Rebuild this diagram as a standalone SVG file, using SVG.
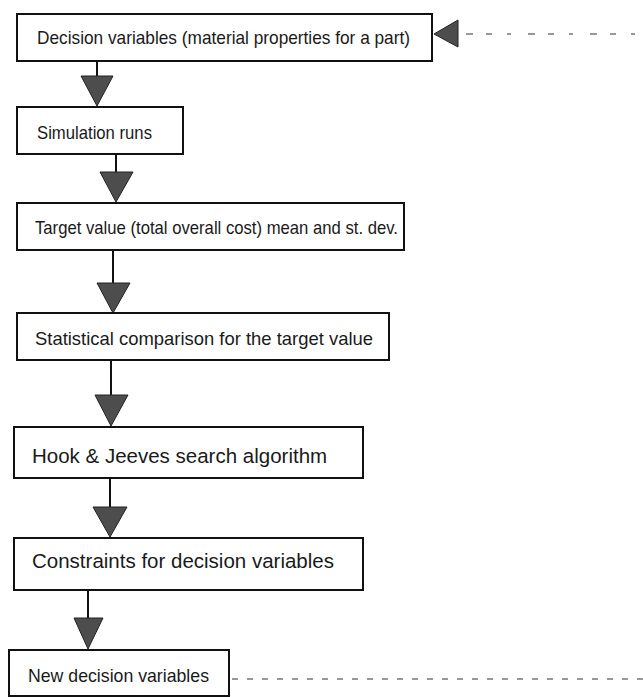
<svg xmlns="http://www.w3.org/2000/svg" width="643" height="697" viewBox="0 0 643 697">
  <style>
    .box { fill: #ffffff; stroke: #111111; stroke-width: 2; }
    .lbl { font-family: "Liberation Sans", Arial, sans-serif; font-size: 19px; fill: #1a1a1a; }
    .lbl-lg { font-size: 20.5px; }
    .stem { stroke: #111111; stroke-width: 2; fill: none; }
    .head { fill: #4d4d4d; stroke: #222222; stroke-width: 1; }
    .dash { stroke: #333333; stroke-width: 1.2; stroke-dasharray: 6 9; fill: none; }
    .dash-top { stroke: #333333; stroke-width: 1.2; stroke-dasharray: 7 13 6 15 4 17; fill: none; }
  </style>
  <rect width="643" height="697" fill="#ffffff"/>

  <!-- connectors: stems, filled triangle heads, dashed feedback loop -->
  <g id="connectors">
    <line class="stem" x1="97" y1="61" x2="97" y2="76"/>
    <polygon class="head" points="81,76 113,76 97,106"/>
    <line class="stem" x1="116" y1="154" x2="116" y2="172"/>
    <polygon class="head" points="100,172 133,172 116,202"/>
    <line class="stem" x1="113" y1="250" x2="113" y2="283"/>
    <polygon class="head" points="97,283 130,283 113,313"/>
    <line class="stem" x1="111" y1="360" x2="111" y2="395"/>
    <polygon class="head" points="95,395 128,395 111,426"/>
    <line class="stem" x1="110" y1="478" x2="110" y2="507"/>
    <polygon class="head" points="93,507 127,507 110,537"/>
    <line class="stem" x1="88" y1="590" x2="88" y2="618"/>
    <polygon class="head" points="74,618 103,618 88,649"/>
    <line class="dash" x1="232" y1="679" x2="643" y2="679"/>
    <line class="dash-top" x1="466" y1="34" x2="643" y2="34"/>
    <polygon class="head" points="434,34 458,20 458,47"/>
  </g>

  <g id="n1">
    <rect class="box" x="17" y="14" width="415" height="47"/>
    <text class="lbl" x="37" y="44" textLength="373" lengthAdjust="spacingAndGlyphs">Decision variables (material properties for a part)</text>
  </g>
  <g id="n2">
    <rect class="box" x="17" y="107" width="166" height="47"/>
    <text class="lbl" x="37" y="139" textLength="115" lengthAdjust="spacingAndGlyphs">Simulation runs</text>
  </g>
  <g id="n3">
    <rect class="box" x="17" y="203" width="387" height="47"/>
    <text class="lbl" x="35" y="234" textLength="363" lengthAdjust="spacingAndGlyphs">Target value (total overall cost) mean and st. dev.</text>
  </g>
  <g id="n4">
    <rect class="box" x="17" y="313" width="372" height="47"/>
    <text class="lbl" x="35" y="345" textLength="338" lengthAdjust="spacingAndGlyphs">Statistical comparison for the target value</text>
  </g>
  <g id="n5">
    <rect class="box" x="14" y="427" width="349" height="51"/>
    <text class="lbl lbl-lg" x="32" y="463">Hook &amp; Jeeves search algorithm</text>
  </g>
  <g id="n6">
    <rect class="box" x="14" y="538" width="349" height="52"/>
    <text class="lbl lbl-lg" x="32" y="568">Constraints for decision variables</text>
  </g>
  <g id="n7">
    <rect class="box" x="9" y="650" width="220" height="46"/>
    <text class="lbl" x="28" y="682" textLength="181" lengthAdjust="spacingAndGlyphs">New decision variables</text>
  </g>
</svg>
